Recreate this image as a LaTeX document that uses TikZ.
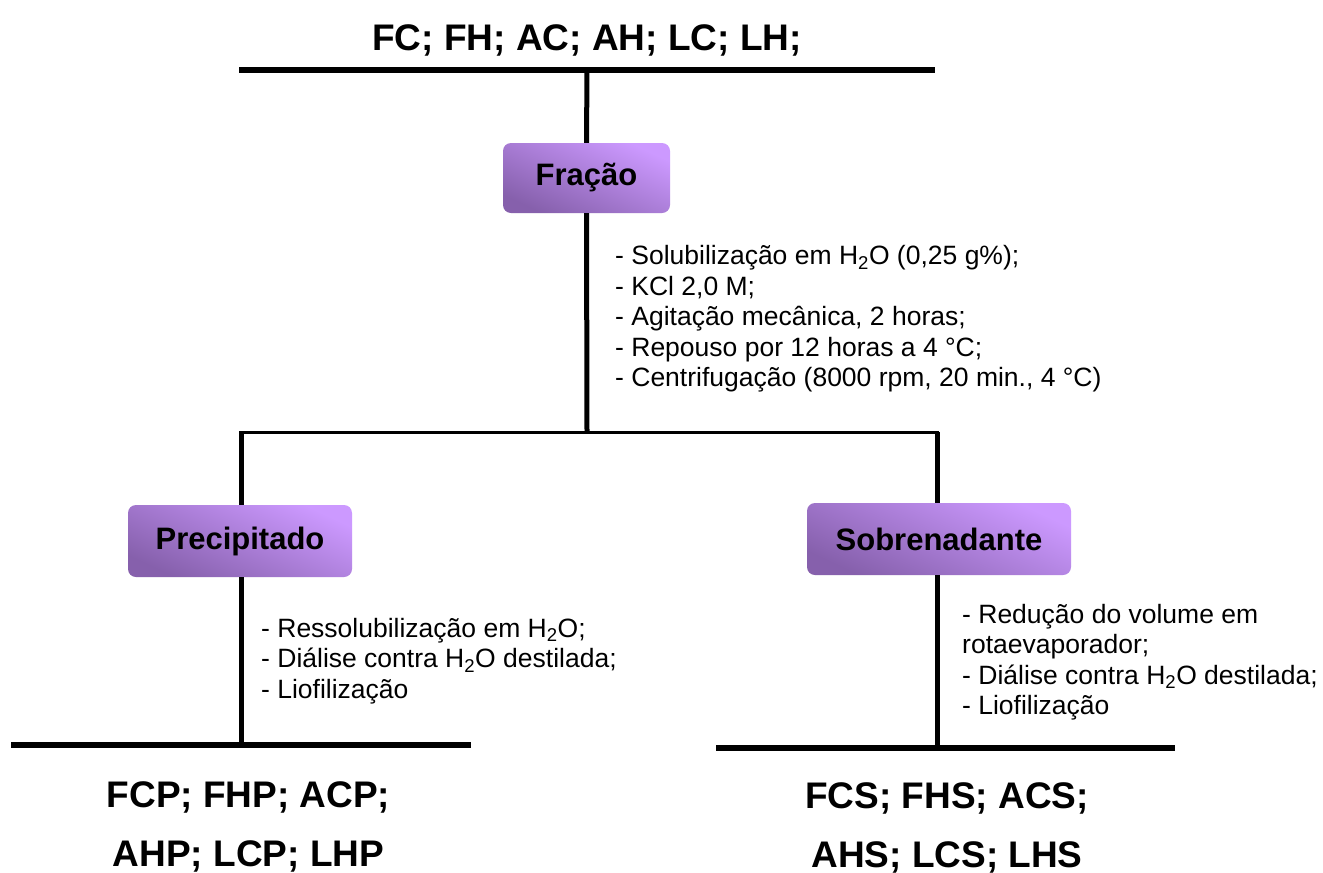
\documentclass[tikz,border=0pt]{standalone}
\usepackage{fontspec}
\setmainfont{Liberation Sans}
\definecolor{boxlight}{HTML}{CC99FF}
\definecolor{boxdark}{HTML}{8660AC}
\tikzset{
  thickline/.style={line width=6pt},
  midline/.style={line width=3pt},
  stem/.style={line width=5pt},
  stagebox/.style={rounded corners=8pt, inner sep=0pt, text=black,
    top color=boxlight, bottom color=boxdark, shading angle=-25,
    font=\fontsize{31}{37}\selectfont\bfseries},
  steptext/.style={align=left, inner sep=0pt, anchor=west,
    font=\fontsize{26.5}{30.5}\selectfont},
  bigtext/.style={align=center, inner sep=0pt,
    font=\fontsize{37}{59}\selectfont\bfseries}
}
\begin{document}
\begin{tikzpicture}[x=1pt,y=-1pt]
\useasboundingbox[fill=white] (0,0) rectangle (1323,873);
% texts
\node[bigtext] (title) at (587,40) {FC; FH; AC; AH; LC; LH;};
\node[stagebox, minimum width=167pt, minimum height=70pt] (fracao) at (586.5,178) {Fração};
\node[stagebox, minimum width=224pt, minimum height=72pt] (prec) at (240,541) {Precipitado};
\node[stagebox, minimum width=264pt, minimum height=72pt] (sobr) at (939,539) {Sobrenadante};
\node[steptext] (t1) at (615,319) {- Solubilização em H\textsubscript{2}O (0,25 g\%);\\- KCl 2,0 M;\\- Agitação mecânica, 2 horas;\\- Repouso por 12 horas a 4 °C;\\- Centrifugação (8000 rpm, 20 min., 4 °C)};
\node[steptext] (t2) at (261,661) {- Ressolubilização em H\textsubscript{2}O;\\- Diálise contra H\textsubscript{2}O destilada;\\- Liofilização};
\node[steptext] (t3) at (962,662) {- Redução do volume em\\rotaevaporador;\\- Diálise contra H\textsubscript{2}O destilada;\\- Liofilização};
\node[bigtext] (resP) at (248.5,826.5) {FCP; FHP; ACP;\\AHP; LCP; LHP};
\node[bigtext] (resS) at (947,827.5) {FCS; FHS; ACS;\\AHS; LCS; LHS};
% coordinates
\coordinate (topL) at (239,70);
\coordinate (topR) at (935,70);
\coordinate (topM) at (587,70);
\coordinate (midM) at (587,432);
\coordinate (midL) at (239,432);
\coordinate (midR) at (939,432);
\coordinate (brL) at (241,432);
\coordinate (brR) at (937,432);
\coordinate (botLL) at (11,745);
\coordinate (botLR) at (471,745);
\coordinate (botLM) at (241,745);
\coordinate (botRL) at (716,748);
\coordinate (botRR) at (1175,748);
\coordinate (botRM) at (937,748);
% lines
\draw[thickline] (topL) -- (topR);
\draw[stem] (topM) -- (fracao.north);
\draw[stem] (fracao.south) -- (midM);
\draw[midline] (midL) -- (midR);
\draw[stem] (brL) -- (brL |- prec.north);
\draw[stem] (brL |- prec.south) -- (botLM);
\draw[stem] (brR) -- (brR |- sobr.north);
\draw[stem] (brR |- sobr.south) -- (botRM);
\draw[thickline] (botLL) -- (botLR);
\draw[thickline] (botRL) -- (botRR);
\end{tikzpicture}
\end{document}
